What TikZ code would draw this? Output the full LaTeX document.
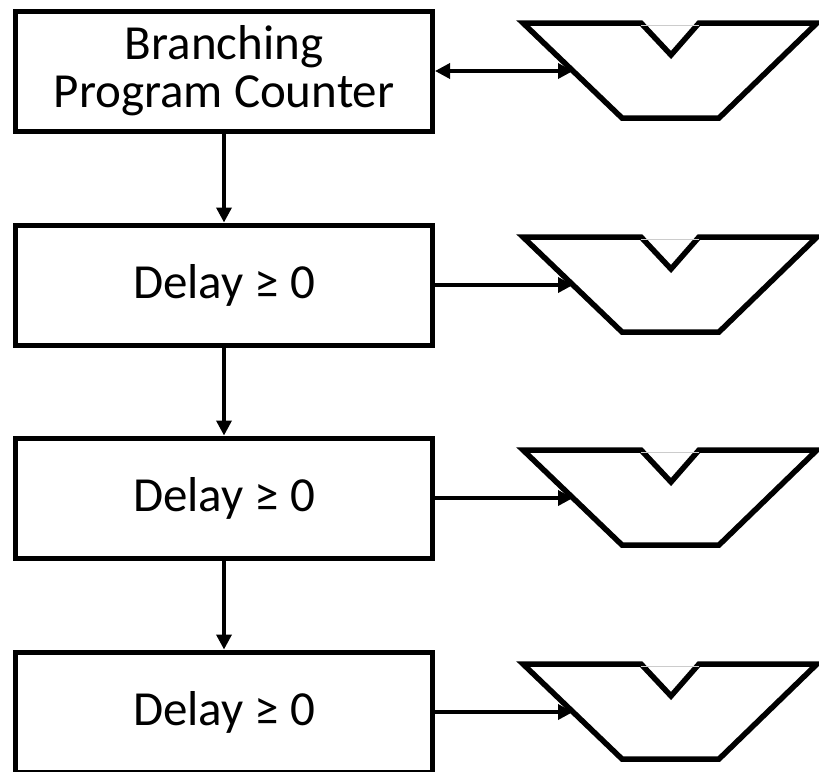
\documentclass[tikz,border=0pt]{standalone}
\usepackage{fontspec}
\setmainfont{Carlito}
\usepackage{tikz}
\usetikzlibrary{arrows.meta,positioning}
\tikzset{
  >={Triangle[length=15pt,width=15pt]},
  blk/.style={draw, line width=5pt, minimum width=417pt, minimum height=120pt,
    align=center, font=\fontsize{49}{48}\selectfont},
  trap/.style={draw, line width=5.5pt, fill=white},
  conn/.style={line width=3.5pt},
}

\begin{document}
\begin{tikzpicture}[x=1pt,y=-1pt]
\useasboundingbox (0,0) rectangle (819,771);

\node[blk] (pc) at (224,71) {Branching\\Program Counter};
\node[blk] (d1) at (224,285) {Delay ≥ 0};
\node[blk] (d2) at (224,498) {Delay ≥ 0};
\node[blk] (d3) at (224,712) {Delay ≥ 0};

% output shapes
\foreach \n/\y in {pc/71, d1/285, d2/498, d3/712} {
  \draw[trap] (523,\y-48) -- (641,\y-48) -- (671,\y-16) -- (699,\y-48)
    -- (817,\y-48) -- (719,\y+47) -- (622,\y+47) -- cycle;
  \draw[gray!40, line width=1pt] (641,\y-46) -- (699,\y-46);
  \coordinate (\n-in) at (573,\y);
}

\path[conn]
(pc) edge[<->] (pc-in)
(d1) edge[->] (d1-in)
(d2) edge[->] (d2-in)
(d3) edge[->] (d3-in)
(pc) edge[->] (d1)
(d1) edge[->] (d2)
(d2) edge[->] (d3);
\end{tikzpicture}
\end{document}
